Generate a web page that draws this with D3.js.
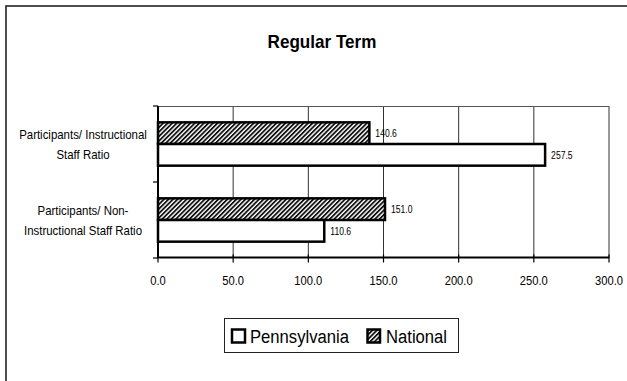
<!DOCTYPE html>
<html><head><meta charset="utf-8">
<script src="https://cdn.jsdelivr.net/npm/d3@7"></script>
<style>body{margin:0;background:#fff}svg{display:block}text{font-family:"Liberation Sans",Arial,sans-serif;fill:#000}</style>
</head><body><svg id="c" width="627" height="381"></svg>
<script>
const categories = [["Participants/ Instructional","Staff Ratio"],["Participants/ Non-","Instructional Staff Ratio"]];
const categoryKeys = ["instr","noninstr"];
const seriesNames = ["Pennsylvania","National"];
const pennsylvania = [257.5, 110.6];
const national = [140.6, 151.0];
const xTicks = [0,50,100,150,200,250,300];
const title = "Regular Term";

const svg = d3.select("#c");
const defs = svg.append("defs");
const pat = defs.append("pattern").attr("id","hatch").attr("patternUnits","userSpaceOnUse")
  .attr("width",3.2).attr("height",3.2).attr("patternTransform","rotate(45)");
pat.append("rect").attr("width",3.2).attr("height",3.2).attr("fill","#fff");
pat.append("rect").attr("width",1.8).attr("height",3.2).attr("fill","#111");

// outer frame
svg.append("rect").attr("x",6).attr("y",6).attr("width",640).attr("height",400)
  .attr("fill","none").attr("stroke","#222").attr("stroke-width",1.6);

function ctext(g, str, x, y, size, sx, anchor, weight){
  return g.append("text").attr("transform",`translate(${x},${y}) scale(${sx},1)`)
    .attr("text-anchor",anchor||"middle").attr("font-size",size).attr("font-weight",weight||"normal").text(str);
}

ctext(svg, title, 322, 48, 18, 0.95, "middle", "bold");

const x = d3.scaleLinear().domain([0,300]).range([158,609]);
const y0 = d3.scaleBand().domain(categoryKeys).range([106,258]).paddingInner(0.43).paddingOuter(0.215);
const y1 = d3.scaleBand().domain(["National","Pennsylvania"]).range([0,y0.bandwidth()]);

// gridlines
svg.append("g").selectAll("line").data(xTicks.filter(d=>d>0)).join("line")
  .attr("x1",d=>x(d)).attr("x2",d=>x(d)).attr("y1",106).attr("y2",258)
  .attr("stroke","#333").attr("stroke-width",1);
svg.append("line").attr("x1",x(0)).attr("x2",x(300)).attr("y1",106.5).attr("y2",106.5).attr("stroke","#555").attr("stroke-width",1);

// bars
const rows = categoryKeys.map((k,i)=>({k, Pennsylvania:pennsylvania[i], National:national[i]}));
const gb = svg.append("g");
rows.forEach(r=>{
  ["National","Pennsylvania"].forEach(s=>{
    const yy = y0(r.k)+y1(s);
    gb.append("rect").attr("x",x(0)).attr("y",yy).attr("width",x(r[s])-x(0)).attr("height",y1.bandwidth())
      .attr("fill", s==="National"?"url(#hatch)":"#fff").attr("stroke","#000").attr("stroke-width",2.5);
    ctext(gb, r[s].toFixed(1), x(r[s])+6, yy+y1.bandwidth()/2+3.8, 10.5, 0.82, "start");
  });
});

// axes
const xAxis = svg.append("g").attr("transform","translate(0,257.5)");
xAxis.append("line").attr("x1",x(0)).attr("x2",x(300)).attr("stroke","#000").attr("stroke-width",2);
xAxis.selectAll("line.t").data(xTicks).join("line").attr("class","t")
  .attr("x1",d=>x(d)).attr("x2",d=>x(d)).attr("y1",-3).attr("y2",5).attr("stroke","#000").attr("stroke-width",1.2);
xTicks.forEach(t=>ctext(xAxis, t.toFixed(1), x(t), 27, 13, 0.86, "middle"));

const yAxis = svg.append("g");
yAxis.append("line").attr("x1",158).attr("x2",158).attr("y1",106).attr("y2",258).attr("stroke","#000").attr("stroke-width",2);
const bounds = [106,182,258];
yAxis.selectAll("line.t").data(bounds).join("line").attr("class","t")
  .attr("x1",153).attr("x2",158).attr("y1",d=>d).attr("y2",d=>d).attr("stroke","#000").attr("stroke-width",1.2);
categoryKeys.forEach((k,i)=>{
  const c = y0(k)+y0.bandwidth()/2;
  categories[i].forEach((ln,j)=>{
    ctext(yAxis, ln, 83, c-10+j*20+4.6, 13, 0.88, "middle");
  });
});

// legend
const lg = svg.append("g");
lg.append("rect").attr("x",224.5).attr("y",318.5).attr("width",234).attr("height",34).attr("fill","#fff").attr("stroke","#222").attr("stroke-width",1);
lg.append("rect").attr("x",232).attr("y",329.5).attr("width",13).attr("height",13).attr("fill","#fff").attr("stroke","#000").attr("stroke-width",2.5);
ctext(lg, seriesNames[0], 250, 343, 18.5, 0.9, "start");
lg.append("rect").attr("x",367.5).attr("y",329.5).attr("width",12.5).attr("height",13).attr("fill","url(#hatch)").attr("stroke","#000").attr("stroke-width",2.5);
ctext(lg, seriesNames[1], 386, 343, 18.5, 0.9, "start");
</script></body></html>
